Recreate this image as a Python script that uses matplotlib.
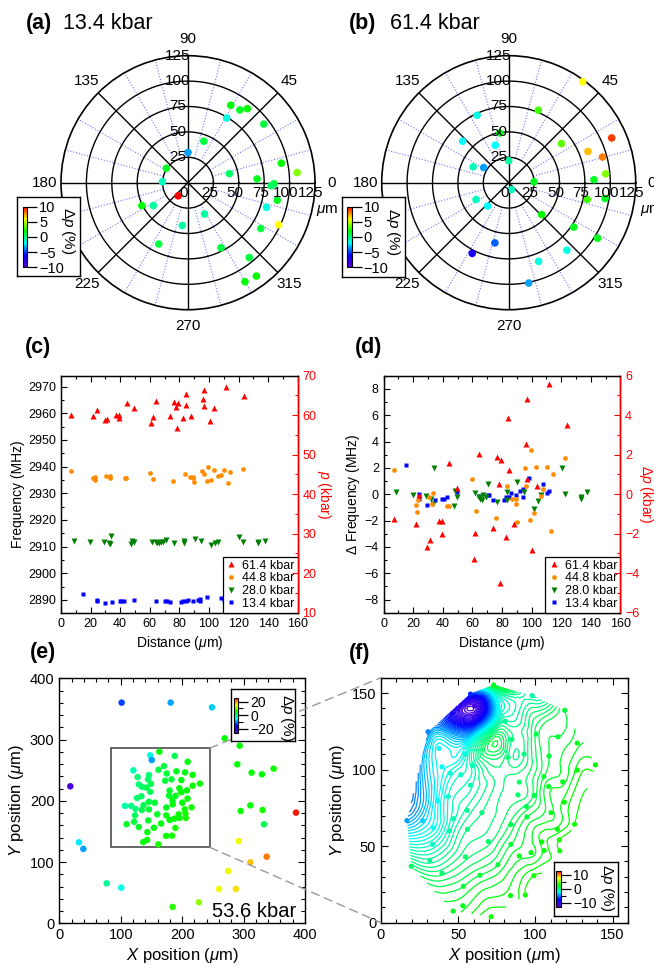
import numpy as np
import matplotlib
matplotlib.use('Agg')
import matplotlib.pyplot as plt
from matplotlib.colors import LinearSegmentedColormap, Normalize
from matplotlib.patches import Rectangle, ConnectionPatch
from matplotlib.ticker import MultipleLocator, FixedLocator
from matplotlib.cm import ScalarMappable
from matplotlib.lines import Line2D
import matplotlib.transforms as mtrans
import matplotlib.tri as mtri

plt.rcParams['font.family'] = ['Liberation Sans', 'DejaVu Sans']
plt.rcParams['mathtext.fontset'] = 'custom'
plt.rcParams['mathtext.rm'] = 'Liberation Sans'
plt.rcParams['mathtext.it'] = 'Liberation Sans:italic'
plt.rcParams['mathtext.bf'] = 'Liberation Sans:bold'

# ---------------- data ----------------
# (a) 13.4 kbar polar map: radius (um), angle (deg), dp (%)
a_r = [87.1, 88.0, 93.4, 74.2, 94.3, 43.7, 29.8, 93.8, 107.9, 41.7, 68.1, 84.6, 82.0, 25.6, 25.2,
       16.1, 89.5, 81.0, 98.3, 84.6, 34.9, 42.5, 50.7, 40.9, 66.9, 71.8, 95.2, 113.9, 112.4]
a_theta = [61.1, 54.5, 51.3, 59.1, 37.7, 69.1, 90.0, 11.8, 5.3, 12.4, 3.1, -0.7, -2.1, 146.1, 177.7,
           233.4, -11.1, -17.4, -24.9, -32.2, -62.2, 262.4, 206.4, 213.4, 244.5, -63.1, -50.7, -53.8, -60.1]
a_dp = [2, 1.5, 2, -1.5, 1, 1, -3.5, 2, 4, 0.5, 1.5, 1, 0.5, 1.5, -1,
        10, 1.5, -1.5, 6, 1, -0.5, -0.5, 2, -0.5, 1, 1, 1, 2, 2]

# (b) 61.4 kbar polar map
b_r = [123.2, 77.0, 73.3, 49.7, 61.0, 39.2, 64.6, 110.5, 83.9, 95.7, 95.9, 21.7, 38.3, 28.8, 25.0,
       84.0, 7.3, 79.1, 96.1, 36.1, 30.9, 45.1, 77.6, 103.1, 60.8, 78.3, 87.7, 82.8, 100.7]
b_theta = [53.8, 67.8, 115.1, 100.1, 138.0, 109.8, 36.6, 23.5, 21.5, 15.3, 5.2, 90.0, 156.0, 148.8, 2.2,
           2.0, -69.0, -12.0, -9.3, 207.3, 228.0, -44.1, -34.3, -32.0, 257.1, 242.7, -49.2, -69.2, -78.7]
b_dp = [6, 3, -1.5, 1.5, -2, -2, 3.5, 9, 7, 8, 4, -0.5, -1, -3.5, 1.5,
        1.5, -1, 3, 1.5, -1, -2, 2, 1.5, 1.5, -4.5, -7, -1.5, -1.5, -3.5]

# (c)/(d) distance (um), frequency (MHz), delta frequency (MHz)
dist_614 = [6.8, 21.6, 24.1, 29.5, 31.1, 37.4, 39.2, 39.5, 44.4, 49.5, 60.8, 61.9, 64.4, 73.6, 76.6,
            77.9, 78.4, 79.3, 82.4, 84.2, 84.7, 88.1, 96.2, 96.6, 96.9, 100.5, 103.4, 111.5, 123.7]
freq_614 = [2959.53, 2959.15, 2961.35, 2957.38, 2957.94, 2959.40, 2959.35, 2958.34, 2963.80, 2961.85,
            2956.50, 2958.47, 2964.46, 2958.85, 2964.20, 2962.18, 2954.65, 2964.01, 2958.18, 2967.22,
            2963.25, 2959.15, 2965.20, 2968.62, 2962.56, 2957.17, 2962.03, 2969.78, 2966.67]
dfreq_614 = [-1.87, -2.25, -0.05, -4.02, -3.46, -2.00, -2.05, -3.06, 2.40, 0.45, -4.90, -2.93, 3.06, -2.55, 2.80,
             0.78, -6.75, 2.61, -3.22, 5.82, 1.85, -2.25, 3.80, 7.22, 1.16, -4.23, 0.63, 8.38, 5.27]

dist_448 = [6.8, 21.6, 22.7, 23.0, 30.6, 32.9, 33.3, 43.0, 44.1, 59.9, 62.4, 75.9, 83.6, 86.9, 89.4,
            89.4, 89.9, 95.5, 96.4, 98.7, 99.6, 101.4, 103.2, 106.1, 107.9, 110.4, 112.9, 114.4, 122.8]
freq_448 = [2938.34, 2935.69, 2935.16, 2936.07, 2936.30, 2935.77, 2936.58, 2935.57, 2935.59, 2937.69,
            2935.19, 2934.68, 2937.11, 2936.12, 2936.12, 2935.79, 2934.37, 2938.50, 2937.11, 2934.53,
            2939.87, 2935.11, 2938.58, 2936.37, 2936.88, 2938.55, 2933.74, 2938.02, 2939.28]
dfreq_448 = [1.84, -0.81, -1.34, -0.43, -0.20, -0.73, 0.08, -0.93, -0.91, 1.19, -1.31, -1.82, 0.61, -0.38, -0.38,
             -0.71, -2.13, 2.00, 0.61, -1.97, 3.37, -1.39, 2.08, -0.13, 0.38, 2.05, -2.76, 1.52, 2.78]

dist_280 = [8.6, 19.8, 28.8, 32.2, 33.3, 34.0, 47.3, 48.0, 49.5, 61.5, 64.4, 64.9, 66.4, 67.3, 68.9,
            70.7, 76.4, 83.1, 83.3, 90.3, 94.8, 101.6, 104.3, 106.1, 120.5, 122.8, 133.1, 133.1, 137.7]
freq_280 = [2911.95, 2911.77, 2911.65, 2911.47, 2911.02, 2913.80, 2910.87, 2912.08, 2911.62, 2911.90,
            2911.62, 2911.40, 2911.35, 2911.77, 2911.57, 2912.58, 2911.22, 2911.95, 2911.34, 2912.71,
            2911.93, 2910.66, 2911.29, 2911.77, 2913.77, 2911.80, 2911.57, 2911.42, 2911.98]
dfreq_280 = [0.15, -0.03, -0.15, -0.33, -0.78, 2.00, -0.93, 0.28, -0.18, 0.10, -0.18, -0.40, -0.45, -0.03, -0.23,
             0.78, -0.58, 0.15, -0.46, 0.91, 0.13, -1.14, -0.51, -0.03, 1.97, 0.00, -0.23, -0.38, 0.18]

dist_134 = [15.0, 24.0, 24.0, 29.5, 34.7, 39.6, 40.8, 42.8, 49.5, 64.5, 70.5, 71.5, 74.0, 81.1, 82.4,
            84.7, 86.0, 89.4, 92.3, 93.9, 93.9, 98.4, 107.9, 110.2, 112.0]
freq_134 = [2892.05, 2889.83, 2889.42, 2888.99, 2889.37, 2889.42, 2889.42, 2889.57, 2889.95, 2889.65,
            2889.72, 2889.72, 2889.37, 2889.34, 2889.57, 2889.62, 2889.88, 2889.77, 2890.08, 2890.21,
            2889.57, 2891.02, 2890.56, 2889.88, 2890.05]
dfreq_134 = [2.25, 0.03, -0.38, -0.81, -0.43, -0.38, -0.38, -0.23, 0.15, -0.15, -0.08, -0.08, -0.43, -0.46, -0.23,
             -0.18, 0.08, -0.03, 0.28, 0.41, -0.23, 1.22, 0.76, 0.08, 0.25]

series_labels = ['61.4 kbar', '44.8 kbar', '28.0 kbar', '13.4 kbar']

# (e) 53.6 kbar map, outer points: x, y (um), dp (%)
e_x = [101.5, 181.3, 248.6, 269.2, 293.6, 289.8, 313.1, 329.9, 348.9, 17.9, 311.0, 295.2, 331.0, 385.3,
       333.2, 32.0, 39.1, 292.0, 337.6, 311.0, 275.1, 77.1, 100.9, 260.0, 287.6, 227.4, 184.5]
e_y = [360.3, 360.3, 352.6, 302.0, 290.0, 259.6, 246.0, 243.3, 252.5, 223.7, 192.6, 183.4, 185.0, 180.7,
       161.6, 132.2, 121.4, 134.4, 108.8, 99.6, 85.4, 65.3, 58.2, 56.1, 56.1, 34.3, 26.7]
e_dp = [-13, -8.8, -7.3, 5, 5, 5, 5.5, 5, 5.5, -24.5, 5, 5.5, 6, 25,
        2, -6, -9, 15, 21, 18, 15, -1, -4, 15, 17, 11, 7]

# (f) zoomed region: x, y (um), dp (%)
f_x = [73.0, 58.0, 97.9, 119.0, 80.4, 71.5, 30.5, 114.7, 100.5, 127.1, 84.8, 56.0, 37.5, 54.3, 92.7,
       108.8, 82.4, 138.9, 39.5, 59.3, 44.7, 51.7, 127.1, 105.5, 117.7, 108.6, 89.6, 58.0, 43.6, 88.7,
       99.2, 36.6, 118.8, 94.2, 55.8, 65.4, 110.1, 47.1, 94.6, 16.8, 27.0, 84.2, 125.4, 34.0, 44.3,
       56.0, 114.2, 104.2, 69.5, 84.2, 33.4, 105.7, 115.5, 115.8, 54.7, 89.6, 97.2, 31.6, 75.7, 19.6,
       39.5, 64.1, 99.0, 53.4, 83.9, 93.5, 53.0, 46.7, 71.3, 60.5]
f_y = [155.2, 149.3, 148.3, 138.7, 131.7, 125.6, 124.7, 121.4, 123.2, 117.3, 119.7, 117.1, 113.8, 109.9, 110.1,
       108.8, 107.9, 103.1, 101.8, 102.7, 97.7, 96.6, 99.6, 95.5, 92.0, 89.0, 91.8, 89.8, 82.4, 83.5,
       83.1, 79.6, 78.7, 75.9, 73.3, 71.9, 71.9, 68.0, 69.1, 66.7, 66.7, 64.1, 64.3, 61.9, 60.0,
       61.0, 61.0, 52.8, 53.0, 51.2, 51.2, 47.1, 54.1, 46.9, 43.0, 43.6, 45.8, 40.8, 37.9, 36.8,
       32.3, 31.0, 30.7, 23.8, 17.7, 18.1, 11.1, 7.6, 3.9, 141.5]
f_dp = [2, -7, -1, 1.5, -0.5, -0.5, -5, 1.5, 1, 2, 0, -2.5, -2.5, -2, 0,
        1.5, 0, 2.5, -2.5, -1, -2, -1.5, 2.5, 1.5, 2, 2, 0.5, -1, -1.5, 0.5,
        1, -2.5, 2.5, 1, -0.5, 0, 2, -1, 1.5, -4.5, -3.5, 1, 3, -2.5, -1,
        0, 2.5, 2.5, 0.5, 1.5, -1.5, 2.5, 3, 3, 0.5, 2, 2, -0.5, 1.5, 0.5,
        0.5, 1.5, 3, 1.5, 2.5, 3, 2, 2, 3, -12]
# position of the (f) region inside (e) and dp reference shift between the two maps
F_IN_E_OFFSET = (90.0, 125.0)
F_IN_E_DP_SHIFT = 3.0
BOX_E = (84.0, 124.0, 161.0, 162.0)

# ---------------- style ----------------
cmap = LinearSegmentedColormap.from_list(
    'rainbow_igor', [(0.35, 0.0, 0.85), (0.0, 0.0, 1.0), (0.0, 1.0, 1.0),
                     (0.0, 1.0, 0.0), (1.0, 1.0, 0.0), (1.0, 0.0, 0.0)])

W, H = 654, 973
fig = plt.figure(figsize=(W / 100, H / 100), dpi=100)


def px_rect(x0, y0, x1, y1):
    return [x0 / W, 1 - y1 / H, (x1 - x0) / W, (y1 - y0) / H]


def polar_panel(cx, cy, R, r, theta, dp):
    ax = fig.add_axes(px_rect(cx - R, cy - R, cx + R, cy + R), projection='polar')
    ax.set_ylim(0, 125)
    ax.grid(False)
    ax.set_xticks([])
    ax.set_yticks([])
    ax.spines['polar'].set_linewidth(1.2)
    th = np.linspace(0, 2 * np.pi, 400)
    for rv in [25, 50, 75, 100]:
        ax.plot(th, np.full_like(th, rv), color='k', lw=1.0, zorder=2)
    for ang in range(15, 360, 15):
        if ang % 45:
            ax.plot([np.radians(ang)] * 2, [25, 125], color=(0.45, 0.45, 1.0),
                    lw=0.8, ls=(0, (1, 1.6)), zorder=1)
    for ang in range(0, 360, 45):
        ax.plot([np.radians(ang)] * 2, [0, 125], color='k', lw=1.0, zorder=2)
    ax.scatter(np.radians(theta), r, c=dp, cmap=cmap, norm=Normalize(-10, 10),
               s=30, edgecolors='none', zorder=5, clip_on=False)
    for ang in range(0, 360, 45):
        ax.text(np.radians(ang), 141, str(ang), ha='center', va='center', fontsize=11)
    tr90 = mtrans.offset_copy(ax.transData, fig=fig, x=-10, y=0, units='dots')
    for rv in [25, 50, 75, 100, 125]:
        ax.text(np.pi / 2, rv, str(rv), transform=tr90, ha='center', va='center', fontsize=11, zorder=6)
    tr0 = mtrans.offset_copy(ax.transData, fig=fig, x=-4, y=-10, units='dots')
    for rv in [0, 25, 50, 75, 100, 125]:
        ax.text(0, rv, str(rv), transform=tr0, ha='center', va='center', fontsize=11, zorder=6)
    return ax


def inset_cbar(box, strip, vmin, vmax, major, minor, lab_xy, fs=10.5):
    bx = fig.add_axes(px_rect(*box))
    bx.set_zorder(5)
    bx.set_xticks([])
    bx.set_yticks([])
    for s in bx.spines.values():
        s.set_linewidth(1.0)
    bx.text(lab_xy[0], lab_xy[1], r'$\Delta p$ (%)', transform=bx.transAxes, rotation=270,
            ha='center', va='center', fontsize=11)
    cax = fig.add_axes(px_rect(*strip))
    cax.set_zorder(6)
    sm = ScalarMappable(norm=Normalize(vmin, vmax), cmap=cmap)
    cb = fig.colorbar(sm, cax=cax, orientation='vertical')
    cb.set_ticks(major)
    cb.ax.yaxis.set_minor_locator(FixedLocator(minor))
    cax.tick_params(which='major', direction='out', length=7, width=0.9, labelsize=fs, pad=1.5)
    cax.tick_params(which='minor', direction='out', length=3.5, width=0.8)
    cb.outline.set_linewidth(0.8)
    return cb


# ---------------- (a), (b) ----------------
polar_panel(188, 182.7, 127, a_r, a_theta, a_dp)
polar_panel(508.7, 182.7, 127, b_r, b_theta, b_dp)
fig.text(316 / W, 1 - 211 / H, r'$\mu$m', fontsize=11, ha='left', va='center')
fig.text(640 / W, 1 - 211 / H, r'$\mu$m', fontsize=11, ha='left', va='center')

# ---------------- (c) ----------------
colors = ['#ff0000', '#ff8c00', '#008000', '#0000ff']
markers = ['^', 'o', 'v', 's']
msizes = [3.8, 3.4, 3.8, 3.3]

ax_c = fig.add_axes(px_rect(61, 375.7, 297.7, 612.7))
c_data = [(dist_614, freq_614), (dist_448, freq_448), (dist_280, freq_280), (dist_134, freq_134)]
for (xv, yv), col, mk, ms in list(zip(c_data, colors, markers, msizes))[::-1]:
    ax_c.plot(xv, yv, ls='none', marker=mk, ms=ms, color=col, mec='none')
ax_c.set_xlim(0, 160)
ax_c.set_ylim(2885.2, 2974.1)
ax_c.xaxis.set_major_locator(MultipleLocator(20))
ax_c.xaxis.set_minor_locator(MultipleLocator(10))
ax_c.yaxis.set_major_locator(MultipleLocator(10))
ax_c.yaxis.set_minor_locator(MultipleLocator(5))
ax_c.set_ylabel('Frequency (MHz)', fontsize=10, labelpad=2)
ax_c.set_xlabel(r'Distance ($\mu$m)', fontsize=10, labelpad=3)
ax_c2 = ax_c.twinx()
ax_c2.set_ylim(10, 70)
ax_c2.yaxis.set_major_locator(MultipleLocator(10))
ax_c2.yaxis.set_minor_locator(MultipleLocator(5))
ax_c2.set_ylabel(r'$p$ (kbar)', color='red', fontsize=10, rotation=270, labelpad=12)

# ---------------- (d) ----------------
ax_d = fig.add_axes(px_rect(383.7, 375.7, 620.3, 612.7))
d_data = [(dist_614, dfreq_614), (dist_448, dfreq_448), (dist_280, dfreq_280), (dist_134, dfreq_134)]
for (xv, yv), col, mk, ms in list(zip(d_data, colors, markers, msizes))[::-1]:
    ax_d.plot(xv, yv, ls='none', marker=mk, ms=ms, color=col, mec='none')
ax_d.set_xlim(0, 160)
ax_d.set_ylim(-9, 9)
ax_d.xaxis.set_major_locator(MultipleLocator(20))
ax_d.xaxis.set_minor_locator(MultipleLocator(10))
ax_d.yaxis.set_major_locator(MultipleLocator(2))
ax_d.yaxis.set_minor_locator(MultipleLocator(1))
ax_d.set_ylabel(r'$\Delta$ Frequency (MHz)', fontsize=10, labelpad=2)
ax_d.set_xlabel(r'Distance ($\mu$m)', fontsize=10, labelpad=3)
ax_d2 = ax_d.twinx()
ax_d2.set_ylim(-6, 6)
ax_d2.yaxis.set_major_locator(MultipleLocator(2))
ax_d2.yaxis.set_minor_locator(MultipleLocator(1))
ax_d2.set_ylabel(r'$\Delta p$ (kbar)', color='red', fontsize=10, rotation=270, labelpad=11)

for ax in (ax_c, ax_d):
    ax.tick_params(which='both', direction='in', top=True, right=False, labelsize=9, width=0.8)
    ax.tick_params(which='major', length=4)
    ax.tick_params(which='minor', length=2.5)
    for s in ax.spines.values():
        s.set_linewidth(1.0)
    handles = [Line2D([], [], ls='none', marker=m, ms=ms, color=c, mec='none')
               for m, ms, c in zip(markers, msizes, colors)]
    leg = ax.legend(handles, series_labels, loc='lower right', fontsize=9, frameon=True,
                    fancybox=False, edgecolor='black', framealpha=1, borderaxespad=0.0,
                    handlelength=0.9, handletextpad=0.4, labelspacing=0.05, borderpad=0.25)
    leg.get_frame().set_linewidth(0.9)
    leg.set_zorder(10)
for ax2 in (ax_c2, ax_d2):
    ax2.spines['right'].set_color('red')
    ax2.spines['right'].set_linewidth(1.0)
    ax2.tick_params(axis='y', which='both', colors='red', direction='in', labelsize=9, width=0.8)
    ax2.tick_params(axis='y', which='major', length=4)
    ax2.tick_params(axis='y', which='minor', length=2.5)

# ---------------- (e) ----------------
ax_e = fig.add_axes(px_rect(59.3, 678.3, 305, 923.3))
ax_e.set_xlim(0, 400)
ax_e.set_ylim(0, 400)
ax_e.add_patch(Rectangle((BOX_E[0], BOX_E[1]), BOX_E[2], BOX_E[3], fill=False,
                         ec='0.3', lw=1.2, zorder=2))
ax_e.scatter(e_x, e_y, c=e_dp, cmap=cmap, norm=Normalize(-26, 26), s=22,
             edgecolors='none', zorder=3)
ax_e.scatter(np.array(f_x) + F_IN_E_OFFSET[0], np.array(f_y) + F_IN_E_OFFSET[1],
             c=np.array(f_dp) + F_IN_E_DP_SHIFT, cmap=cmap, norm=Normalize(-26, 26),
             s=22, edgecolors='none', zorder=3)
ax_e.xaxis.set_major_locator(MultipleLocator(100))
ax_e.xaxis.set_minor_locator(MultipleLocator(20))
ax_e.yaxis.set_major_locator(MultipleLocator(100))
ax_e.yaxis.set_minor_locator(MultipleLocator(20))
ax_e.set_xlabel(r'$X$ position ($\mu$m)', fontsize=12, labelpad=3)
ax_e.set_ylabel(r'$Y$ position ($\mu$m)', fontsize=12, labelpad=3)
ax_e.text(385, 10, '53.6 kbar', ha='right', va='baseline', fontsize=14.5, zorder=4)

# ---------------- (f) ----------------
ax_f = fig.add_axes(px_rect(381, 677.7, 628, 922.7))
ax_f.set_xlim(0, 160)
ax_f.set_ylim(0, 160)
tri = mtri.Triangulation(f_x, f_y)
refiner = mtri.UniformTriRefiner(tri)
tri_r, z_r = refiner.refine_field(np.array(f_dp, dtype=float), subdiv=3)
ax_f.tricontour(tri_r, z_r, levels=np.arange(-12.9, 4.0, 0.3), cmap=cmap,
                norm=Normalize(-13, 13), linewidths=0.9, zorder=2)
ax_f.scatter(f_x, f_y, c=f_dp, cmap=cmap, norm=Normalize(-13, 13), s=14,
             edgecolors='none', zorder=3)
ax_f.xaxis.set_major_locator(MultipleLocator(50))
ax_f.xaxis.set_minor_locator(MultipleLocator(10))
ax_f.yaxis.set_major_locator(MultipleLocator(50))
ax_f.yaxis.set_minor_locator(MultipleLocator(10))
ax_f.set_xlabel(r'$X$ position ($\mu$m)', fontsize=12, labelpad=3)
ax_f.set_ylabel(r'$Y$ position ($\mu$m)', fontsize=12, labelpad=3)

for ax in (ax_e, ax_f):
    ax.tick_params(which='both', direction='in', top=True, right=True, labelsize=10.5, width=0.8)
    ax.tick_params(which='major', length=5)
    ax.tick_params(which='minor', length=3)
    for s in ax.spines.values():
        s.set_linewidth(1.0)

# dashed connectors between (e) box and (f)
for ya, yb in [(BOX_E[1] + BOX_E[3], 160), (BOX_E[1], 0)]:
    con = ConnectionPatch(xyA=(BOX_E[0] + BOX_E[2], ya), coordsA=ax_e.transData,
                          xyB=(0, yb), coordsB=ax_f.transData,
                          color='0.6', lw=1.0, ls=(0, (6, 4)), zorder=2)
    fig.add_artist(con)

# ---------------- inset colorbars ----------------
inset_cbar((17, 197, 80, 276), (22.7, 206.7, 27.3, 267.3), -10, 10,
           [-10, -5, 0, 5, 10], [], (0.81, 0.57))
inset_cbar((342, 197, 405, 277), (347, 206.7, 351.6, 267.3), -10, 10,
           [-10, -5, 0, 5, 10], [], (0.81, 0.57))
inset_cbar((231, 689, 295, 741), (234.3, 697.7, 238.3, 732.7), -26, 26,
           [-20, 0, 20], [-10, 10], (0.87, 0.44), fs=10)
inset_cbar((553.7, 862.3, 617.7, 915.7), (556.3, 870.7, 561.3, 906.7), -13, 13,
           [-10, 0, 10], [-5, 5], (0.84, 0.52), fs=10)

# ---------------- panel labels ----------------
def plabel(x, y, lab, extra=None, xe=None):
    fig.text(x / W, 1 - y / H, lab, fontsize=15.5, fontweight='bold', va='baseline', ha='left')
    if extra:
        fig.text(xe / W, 1 - y / H, extra, fontsize=15.5, va='baseline', ha='left')

plabel(26, 29, '(a)', '13.4 kbar', 63)
plabel(349, 29, '(b)', '61.4 kbar', 390)
plabel(25, 353, '(c)')
plabel(355, 353, '(d)')
plabel(30, 658, '(e)')
plabel(349, 659, '(f)')

fig.savefig('out.png', dpi=100)
